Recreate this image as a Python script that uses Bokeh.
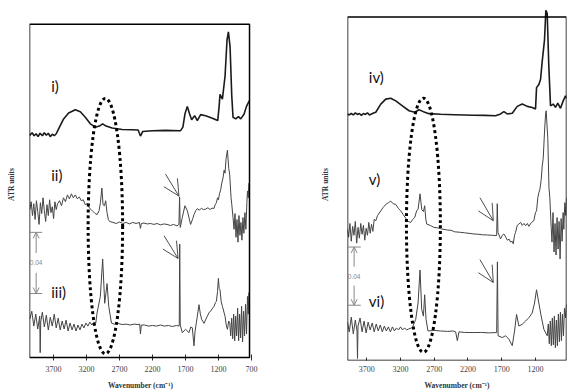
from bokeh.plotting import figure
from bokeh.layouts import row
from bokeh.models import Range1d, FixedTicker, Arrow, OpenHead, Label, BoxAnnotation
from bokeh.embed import file_html
from bokeh.resources import INLINE

# ---------------- data ----------------
TICKS = [3700, 3200, 2700, 2200, 1700, 1200, 700]
X_TITLE = "Wavenumber (cm\u207b\u00b9)"
Y_TITLE = "ATR units"
labels_left = ["i)", "ii)", "iii)"]
labels_right = ["iv)", "v)", "vi)"]
SCALE_TEXT = "0.04"
SCALE = 0.04

# (wavenumber cm-1, ATR units)
trace_i = [(4062, 0.1452), (4055, 0.1458), (4025, 0.1470), (3995, 0.1451), (3965, 0.1464), (3935, 0.1445),
           (3905, 0.1467), (3870, 0.1451), (3840, 0.1470), (3810, 0.1454), (3780, 0.1467), (3750, 0.1445),
           (3720, 0.1461), (3690, 0.1451), (3660, 0.1464), (3624, 0.1496), (3548, 0.1561), (3472, 0.1600),
           (3371, 0.1621), (3295, 0.1608), (3219, 0.1572), (3143, 0.1529), (3067, 0.1507), (3006, 0.1514),
           (2956, 0.1529), (2904, 0.1514), (2813, 0.1501), (2661, 0.1492), (2509, 0.1490), (2418, 0.1488),
           (2383, 0.1449), (2348, 0.1479), (2205, 0.1484), (2003, 0.1486), (1775, 0.1484), (1740, 0.1507),
           (1709, 0.1593), (1673, 0.1643), (1638, 0.1593), (1607, 0.1556), (1562, 0.1582), (1521, 0.1550),
           (1471, 0.1589), (1395, 0.1582), (1293, 0.1565), (1212, 0.1550), (1192, 0.1636), (1177, 0.1722),
           (1141, 0.1690), (1101, 0.1840), (1071, 0.2077), (1050, 0.2130), (1025, 0.2034), (999, 0.1711),
           (980, 0.1572), (939, 0.1561), (898, 0.1576), (863, 0.1561), (812, 0.1593), (776, 0.1643),
           (746, 0.1669), (730, 0.1680)]

trace_ii = [(4060, 0.0968), (4040, 0.1019), (4020, 0.0929), (4000, 0.1006), (3980, 0.0903), (3960, 0.1026),
            (3940, 0.0955), (3920, 0.0871), (3900, 0.1013), (3880, 0.0942), (3860, 0.1045), (3840, 0.0961),
            (3820, 0.0890), (3800, 0.1000), (3780, 0.0929), (3760, 0.1032), (3740, 0.0948), (3720, 0.0987),
            (3700, 0.0909), (3680, 0.1019), (3660, 0.0968), (3640, 0.1006), (3610, 0.1026), (3580, 0.0993),
            (3550, 0.1045), (3520, 0.1019), (3490, 0.1064), (3460, 0.1038), (3430, 0.1071), (3400, 0.1045),
            (3370, 0.1064), (3340, 0.1038), (3310, 0.1051), (3280, 0.1026), (3250, 0.1032), (3220, 0.1000),
            (3190, 0.1006), (3160, 0.0980), (3130, 0.0968), (3100, 0.0955), (3070, 0.0942), (3040, 0.0935),
            (3010, 0.0961), (2990, 0.1013), (2968, 0.1109), (2950, 0.1000), (2930, 0.0993), (2910, 0.1026),
            (2890, 0.0948), (2870, 0.0903), (2850, 0.0890), (2800, 0.0884), (2750, 0.0877), (2700, 0.0887),
            (2650, 0.0877), (2600, 0.0884), (2550, 0.0874), (2500, 0.0884), (2450, 0.0877), (2400, 0.0884),
            (2383, 0.0845), (2370, 0.0877), (2330, 0.0880), (2280, 0.0874), (2230, 0.0877), (2180, 0.0871),
            (2130, 0.0877), (2080, 0.0868), (2030, 0.0874), (1980, 0.0871), (1930, 0.0864), (1880, 0.0871),
            (1830, 0.0861), (1800, 0.0871), (1790, 0.1051), (1780, 0.0851), (1749, 0.0916), (1709, 0.0993),
            (1673, 0.0961), (1623, 0.0871), (1590, 0.0909), (1572, 0.0935), (1545, 0.0961), (1521, 0.0974),
            (1490, 0.0964), (1460, 0.0977), (1430, 0.0968), (1395, 0.0971), (1360, 0.0980), (1330, 0.0968),
            (1300, 0.0977), (1268, 0.0976), (1250, 0.1000), (1232, 0.1013), (1215, 0.1045), (1202, 0.1032),
            (1185, 0.1071), (1167, 0.1098), (1150, 0.1142), (1132, 0.1174), (1115, 0.1226), (1101, 0.1206),
            (1085, 0.1303), (1065, 0.1356), (1045, 0.1238), (1030, 0.1195), (1010, 0.1045), (999, 0.1002),
            (980, 0.0916), (965, 0.0839), (950, 0.0942), (935, 0.0787), (920, 0.0903), (905, 0.0755),
            (890, 0.0929), (875, 0.0800), (860, 0.0884), (845, 0.0768), (830, 0.0916), (815, 0.0813),
            (800, 0.0948), (785, 0.0839), (770, 0.1013), (761, 0.1090), (750, 0.1045), (740, 0.1142)]

trace_iii = [(4060, 0.0252), (4030, 0.0303), (4000, 0.0206), (3970, 0.0284), (3940, 0.0187), (3910, 0.0271),
             (3903, 0.0032), (3895, 0.0232), (3870, 0.0297), (3840, 0.0200), (3810, 0.0277), (3780, 0.0181),
             (3750, 0.0264), (3720, 0.0206), (3690, 0.0284), (3660, 0.0194), (3630, 0.0258), (3600, 0.0181),
             (3570, 0.0239), (3540, 0.0187), (3510, 0.0245), (3480, 0.0174), (3450, 0.0226), (3420, 0.0181),
             (3390, 0.0219), (3360, 0.0174), (3330, 0.0213), (3300, 0.0181), (3270, 0.0219), (3240, 0.0194),
             (3210, 0.0226), (3180, 0.0206), (3150, 0.0232), (3120, 0.0213), (3090, 0.0232), (3060, 0.0226),
             (3041, 0.0292), (2991, 0.0400), (2956, 0.0645), (2925, 0.0355), (2889, 0.0484), (2864, 0.0335),
             (2823, 0.0226), (2780, 0.0219), (2720, 0.0223), (2660, 0.0216), (2600, 0.0219), (2540, 0.0213),
             (2480, 0.0219), (2420, 0.0216), (2395, 0.0219), (2383, 0.0155), (2370, 0.0213), (2320, 0.0213),
             (2260, 0.0206), (2200, 0.0210), (2140, 0.0206), (2080, 0.0213), (2020, 0.0206), (1960, 0.0210),
             (1900, 0.0203), (1840, 0.0210), (1800, 0.0206), (1795, 0.0213), (1788, 0.0742), (1780, 0.0213),
             (1749, 0.0163), (1699, 0.0185), (1648, 0.0163), (1620, 0.0200), (1597, 0.0195), (1572, 0.0077),
             (1555, 0.0174), (1536, 0.0228), (1496, 0.0346), (1475, 0.0284), (1455, 0.0250), (1420, 0.0224),
             (1390, 0.0252), (1369, 0.0271), (1340, 0.0297), (1319, 0.0303), (1290, 0.0323), (1268, 0.0335),
             (1245, 0.0361), (1232, 0.0368), (1215, 0.0432), (1202, 0.0518), (1190, 0.0452), (1177, 0.0443),
             (1160, 0.0368), (1141, 0.0335), (1101, 0.0271), (1080, 0.0206), (1065, 0.0185), (1045, 0.0239),
             (1030, 0.0228), (1015, 0.0142), (1000, 0.0258), (985, 0.0123), (970, 0.0284), (955, 0.0110),
             (940, 0.0271), (925, 0.0142), (910, 0.0323), (895, 0.0110), (880, 0.0284), (865, 0.0129),
             (850, 0.0335), (835, 0.0103), (820, 0.0303), (805, 0.0142), (790, 0.0348), (775, 0.0155),
             (761, 0.0400), (750, 0.0284), (740, 0.0426)]

trace_iv = [(3986, 0.1695), (3960, 0.1688), (3930, 0.1698), (3900, 0.1688), (3870, 0.1702), (3840, 0.1692),
            (3810, 0.1698), (3780, 0.1685), (3750, 0.1698), (3720, 0.1692), (3690, 0.1702), (3660, 0.1688),
            (3630, 0.1695), (3600, 0.1702), (3567, 0.1707), (3493, 0.1763), (3419, 0.1797), (3345, 0.1803),
            (3271, 0.1785), (3172, 0.1751), (3074, 0.1717), (2990, 0.1707), (2926, 0.1724), (2861, 0.1711),
            (2778, 0.1697), (2605, 0.1693), (2400, 0.1690), (2112, 0.1686), (1950, 0.1685), (1791, 0.1683),
            (1717, 0.1695), (1668, 0.1711), (1618, 0.1695), (1544, 0.1700), (1470, 0.1747), (1396, 0.1763),
            (1322, 0.1747), (1248, 0.1740), (1199, 0.1729), (1184, 0.1876), (1150, 0.1898), (1125, 0.1932),
            (1100, 0.2056), (1066, 0.2204), (1046, 0.2407), (1026, 0.2385), (1002, 0.2022), (977, 0.1751),
            (937, 0.1763), (903, 0.1740), (869, 0.1770), (829, 0.1734), (789, 0.1785), (755, 0.1819),
            (740, 0.1803)]

trace_v = [(3986, 0.0902), (3970, 0.0848), (3950, 0.0942), (3930, 0.0820), (3910, 0.0922), (3890, 0.0861),
           (3870, 0.0956), (3850, 0.0807), (3830, 0.0915), (3810, 0.0841), (3790, 0.0942), (3770, 0.0868),
           (3750, 0.0929), (3730, 0.0827), (3710, 0.0909), (3690, 0.0861), (3670, 0.0949), (3650, 0.0875),
           (3630, 0.0936), (3610, 0.0888), (3590, 0.0970), (3567, 0.0961), (3540, 0.0997), (3493, 0.1029),
           (3460, 0.1051), (3419, 0.1073), (3380, 0.1085), (3345, 0.1096), (3310, 0.1078), (3271, 0.1073),
           (3230, 0.1044), (3197, 0.1029), (3160, 0.1003), (3123, 0.0978), (3085, 0.0956), (3049, 0.0949),
           (3020, 0.0970), (2990, 0.0983), (2960, 0.1031), (2940, 0.1039), (2911, 0.1146), (2885, 0.1037),
           (2860, 0.1024), (2842, 0.1064), (2825, 0.0970), (2812, 0.0938), (2760, 0.0929), (2704, 0.0915),
           (2650, 0.0912), (2600, 0.0905), (2506, 0.0897), (2450, 0.0895), (2400, 0.0885), (2309, 0.0881),
           (2250, 0.0878), (2112, 0.0870), (2050, 0.0868), (1980, 0.0864), (1914, 0.0863), (1850, 0.0861),
           (1775, 0.0859), (1766, 0.1078), (1756, 0.0881), (1717, 0.0836), (1690, 0.0861), (1668, 0.0870),
           (1640, 0.0848), (1618, 0.0827), (1590, 0.0834), (1569, 0.0814), (1545, 0.0820), (1529, 0.0802),
           (1510, 0.0861), (1495, 0.0881), (1470, 0.0929), (1446, 0.0938), (1420, 0.0949), (1396, 0.0929),
           (1370, 0.0942), (1347, 0.0927), (1320, 0.0942), (1298, 0.0922), (1260, 0.0949), (1224, 0.0961),
           (1200, 0.1017), (1184, 0.1029), (1165, 0.1119), (1150, 0.1153), (1135, 0.1175), (1115, 0.1243),
           (1100, 0.1336), (1085, 0.1390), (1066, 0.1571), (1050, 0.1695), (1041, 0.1717), (1030, 0.1627),
           (1017, 0.1526), (1000, 0.1187), (987, 0.1119), (967, 0.0915), (955, 0.0814), (940, 0.1017),
           (925, 0.0746), (910, 0.0942), (895, 0.0725), (880, 0.0983), (865, 0.0766), (850, 0.0956),
           (835, 0.0698), (820, 0.0976), (805, 0.0820), (790, 0.1017), (780, 0.0902), (765, 0.1085),
           (750, 0.0997), (740, 0.1119)]

trace_vi = [(3986, 0.0264), (3960, 0.0197), (3930, 0.0298), (3900, 0.0183), (3870, 0.0278), (3845, 0.0203),
            (3838, 0.0014), (3830, 0.0237), (3800, 0.0292), (3770, 0.0197), (3740, 0.0271), (3710, 0.0190),
            (3680, 0.0264), (3650, 0.0210), (3620, 0.0258), (3590, 0.0197), (3560, 0.0251), (3530, 0.0203),
            (3500, 0.0244), (3470, 0.0197), (3440, 0.0237), (3410, 0.0203), (3380, 0.0231), (3350, 0.0197),
            (3320, 0.0231), (3290, 0.0203), (3260, 0.0224), (3230, 0.0210), (3200, 0.0231), (3170, 0.0210),
            (3140, 0.0224), (3110, 0.0210), (3080, 0.0217), (3024, 0.0226), (2975, 0.0283), (2940, 0.0395),
            (2911, 0.0622), (2886, 0.0351), (2861, 0.0305), (2842, 0.0452), (2822, 0.0283), (2793, 0.0203),
            (2700, 0.0207), (2605, 0.0203), (2500, 0.0200), (2420, 0.0203), (2383, 0.0197), (2358, 0.0136),
            (2334, 0.0197), (2250, 0.0193), (2112, 0.0192), (2000, 0.0193), (1900, 0.0190), (1775, 0.0192),
            (1764, 0.0678), (1754, 0.0170), (1692, 0.0158), (1643, 0.0170), (1594, 0.0147), (1544, 0.0102),
            (1510, 0.0203), (1480, 0.0317), (1446, 0.0237), (1396, 0.0249), (1347, 0.0271), (1298, 0.0294),
            (1248, 0.0327), (1214, 0.0395), (1184, 0.0486), (1150, 0.0395), (1115, 0.0305), (1076, 0.0215),
            (1026, 0.0170), (1010, 0.0251), (995, 0.0115), (980, 0.0271), (965, 0.0102), (950, 0.0292),
            (935, 0.0108), (920, 0.0305), (905, 0.0088), (890, 0.0278), (875, 0.0102), (860, 0.0319),
            (845, 0.0129), (830, 0.0332), (815, 0.0136), (800, 0.0319), (785, 0.0170), (770, 0.0359),
            (755, 0.0294), (740, 0.0386)]

# ---------------- styling / layout constants ----------------
SERIF = "Liberation Serif"
LABEL_FONT = "Lato"
H = 392


def make_fig(x_rng, y_rng, box, width, mbl, mbr, ystand, tick_in):
    p = figure(width=width, height=H, x_range=Range1d(*x_rng), y_range=Range1d(*y_rng),
               output_backend="svg", toolbar_location=None, title=None,
               min_border_left=mbl, min_border_right=mbr, min_border_top=8, min_border_bottom=27)
    p.grid.visible = False
    p.outline_line_color = None
    # the panel box (the spectra may poke out of it, as in the original)
    p.add_layout(BoxAnnotation(left=box[0], right=box[1], bottom=box[2], top=box[3],
                               fill_color=None, fill_alpha=0, line_color="black", line_alpha=1.0,
                               line_dash="solid", line_width=1.5))
    xa = p.xaxis[0]
    xa.ticker = FixedTicker(ticks=TICKS)
    xa.axis_line_color = None
    xa.major_tick_in = tick_in
    xa.major_tick_out = 0
    xa.major_tick_line_color = "#333333"
    xa.minor_tick_line_color = None
    xa.major_label_text_font = SERIF
    xa.major_label_text_font_size = "8px"
    xa.major_label_text_color = "#444444"
    xa.major_label_standoff = 5
    xa.axis_label = X_TITLE
    xa.axis_label_text_font = SERIF
    xa.axis_label_text_font_style = "bold"
    xa.axis_label_text_font_size = "7.5px"
    xa.axis_label_text_color = "#333333"
    xa.axis_label_standoff = 6
    ya = p.yaxis[0]
    ya.ticker = FixedTicker(ticks=[])
    ya.axis_line_color = None
    ya.major_tick_line_color = None
    ya.minor_tick_line_color = None
    ya.major_label_standoff = 0
    ya.axis_label = Y_TITLE
    ya.axis_label_text_font = SERIF
    ya.axis_label_text_font_style = "bold"
    ya.axis_label_text_font_size = "7.5px"
    ya.axis_label_text_color = "#333333"
    ya.axis_label_standoff = ystand
    return p


def draw_trace(p, pts, color, width):
    xs = [a for a, b in pts]
    ys = [b for a, b in pts]
    p.line(xs, ys, line_color=color, line_width=width)


def add_decor(p, ell, arrows, labels, label_x, label_ys, bar):
    # dotted ellipse around the C-H stretching region
    p.ellipse(x=[ell[0]], y=[ell[1]], width=[ell[2]], height=[ell[3]], fill_color=None,
              line_color="black", line_width=3, line_dash="3 3")
    # arrows marking the carbonyl band
    for (xs, ys, xe, ye) in arrows:
        p.add_layout(Arrow(x_start=xs, y_start=ys, x_end=xe, y_end=ye, line_width=0.8, line_color="#222222",
                           end=OpenHead(size=16, line_width=0.8, line_color="#222222")))
    for txt, yy in zip(labels, label_ys):
        p.add_layout(Label(x=label_x, y=yy, text=txt, text_font=LABEL_FONT, text_font_size="15px",
                           text_baseline="middle", text_align="left", text_color="#111111"))
    # scale bar
    bx_left, bx_right, bx, bot = bar
    top = bot + SCALE
    mid = bot + SCALE / 2
    grey = "#888888"
    for yy in (bot, top):
        p.add_layout(Arrow(x_start=bx_left, y_start=yy, x_end=bx_right, y_end=yy, end=None,
                           line_color=grey, line_width=1))
    p.add_layout(Arrow(x_start=bx, y_start=mid + 0.0065, x_end=bx, y_end=top, line_color=grey, line_width=1,
                       end=OpenHead(size=6, line_color=grey, line_width=1)))
    p.add_layout(Arrow(x_start=bx, y_start=mid - 0.0065, x_end=bx, y_end=bot, line_color=grey, line_width=1,
                       end=OpenHead(size=6, line_color=grey, line_width=1)))
    p.add_layout(Label(x=bx, y=mid, text=SCALE_TEXT, text_font="Liberation Sans", text_font_size="6.5px",
                       text_align="center", text_baseline="middle", text_color=grey))


# ---------------- left panel ----------------
pl = make_fig((4065, 700), (-0.0019, 0.2283), (4065, 730, 0.0, 0.218), 308, 29, 57, 14, 6)
draw_trace(pl, trace_i, "#1a1a1a", 1.6)
draw_trace(pl, trace_ii, "#444444", 1.0)
draw_trace(pl, trace_iii, "#444444", 1.0)
add_decor(pl, (2915, 0.0860, 523, 0.167),
          [(2003, 0.1200, 1800, 0.1056), (2025, 0.0797, 1813, 0.0648)],
          labels_left, 3735, [0.1774, 0.1196, 0.0426],
          (4062, 3873, 3964, 0.0419))

# ---------------- right panel ----------------
pr = make_fig((3986, 740), (0.0, 0.2420), (3986, 740, 0.0, 0.2361), 261, 39, 3, 18, 3)
draw_trace(pr, trace_iv, "#1a1a1a", 1.6)
draw_trace(pr, trace_v, "#444444", 1.0)
draw_trace(pr, trace_vi, "#444444", 1.0)
add_decor(pr, (2861, 0.0930, 503, 0.1747),
          [(2023, 0.1119, 1825, 0.0961), (2023, 0.0694, 1825, 0.0536)],
          labels_right, 3670, [0.1946, 0.1248, 0.0407],
          (3986, 3789, 3888, 0.0380))

layout = row(pl, pr)
open("out.html", "w").write(file_html(layout, INLINE))
